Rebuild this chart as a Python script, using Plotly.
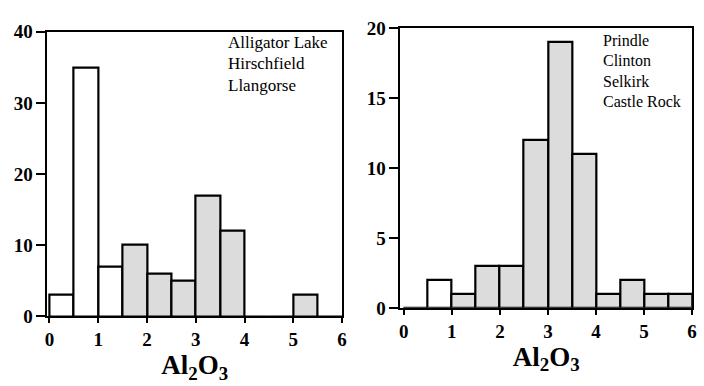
import plotly.graph_objects as go

# Al2O3 histogram bins (width 0.5) and counts for the two groups of localities
bin_centers = [0.25, 0.75, 1.25, 1.75, 2.25, 2.75, 3.25, 3.75, 4.25, 4.75, 5.25, 5.75]
left_counts = [3, 35, 7, 10, 6, 5, 17, 12, 0, 0, 3, 0]
right_counts = [0, 2, 1, 3, 3, 12, 19, 11, 1, 2, 1, 1]
left_shaded = [False, False, False, True, True, True, True, True, True, True, True, True]
right_shaded = [False, False, True, True, True, True, True, True, True, True, True, True]

left_names = ["Alligator Lake", "Hirschfield", "Llangorse"]
right_names = ["Prindle", "Clinton", "Selkirk", "Castle Rock"]

x_ticks = [0, 1, 2, 3, 4, 5, 6]
left_y_ticks = [0, 10, 20, 30, 40]
right_y_ticks = [0, 5, 10, 15, 20]

GRAY = "#dcdcdc"
SERIF = "Liberation Serif"

fig = go.Figure()


def add_hist(counts, shaded, xa, ya):
    fig.add_trace(go.Bar(
        x=bin_centers, y=counts, width=0.5,
        marker=dict(color=[GRAY if s else "white" for s in shaded],
                    line=dict(color="black", width=2.2)),
        xaxis=xa, yaxis=ya, showlegend=False, hoverinfo="x+y",
    ))


add_hist(left_counts, left_shaded, "x", "y")
add_hist(right_counts, right_shaded, "x2", "y2")

W, H = 704, 386

tick_font = dict(family=SERIF, size=19, color="black", weight="bold")
title_font = dict(family=SERIF, size=27, color="black", weight="bold")

common_x = dict(tickvals=x_ticks, ticks="outside", ticklen=5,
                tickwidth=2, tickcolor="black", showline=True, linecolor="black",
                linewidth=2, mirror=True, showgrid=False, zeroline=False,
                tickfont=tick_font, title=dict(text="Al<sub>2</sub>O<sub>3</sub>",
                                               font=title_font, standoff=0))
common_y = dict(ticks="outside", ticklen=9, tickwidth=2, tickcolor="black",
                showline=True, linecolor="black", linewidth=2, mirror=True,
                showgrid=False, zeroline=False, tickfont=tick_font)

fig.update_layout(
    width=W, height=H,
    margin=dict(l=0, r=0, t=0, b=0),
    paper_bgcolor="white", plot_bgcolor="white",
    bargap=0,
    xaxis=dict(domain=[45 / W, 343 / W], anchor="y", range=[-0.04, 6.0], **common_x),
    yaxis=dict(domain=[1 - 324 / H, 1 - 23 / H], anchor="x", range=[0, 40],
               tickvals=left_y_ticks, **common_y),
    xaxis2=dict(domain=[402 / W, 697 / W], anchor="y2", range=[-0.07, 6.0], **common_x),
    yaxis2=dict(domain=[1 - 315 / H, 1 - 19 / H], anchor="x2", range=[0, 20],
                tickvals=right_y_ticks, **common_y),
)

# Locality labels in the upper right of each panel
for i, name in enumerate(left_names):
    fig.add_annotation(text=name, x=226 / W, y=1 - (34 + 23 * i) / H,
                       xref="paper", yref="paper", xanchor="left", yanchor="middle",
                       showarrow=False,
                       font=dict(family=SERIF, size=17, color="black"))
for i, name in enumerate(right_names):
    fig.add_annotation(text=name, x=605 / W, y=1 - (32 + 21.7 * i) / H,
                       xref="paper", yref="paper", xanchor="left", yanchor="middle",
                       showarrow=False,
                       font=dict(family=SERIF, size=16, color="black"))

fig.write_html("out.html")
